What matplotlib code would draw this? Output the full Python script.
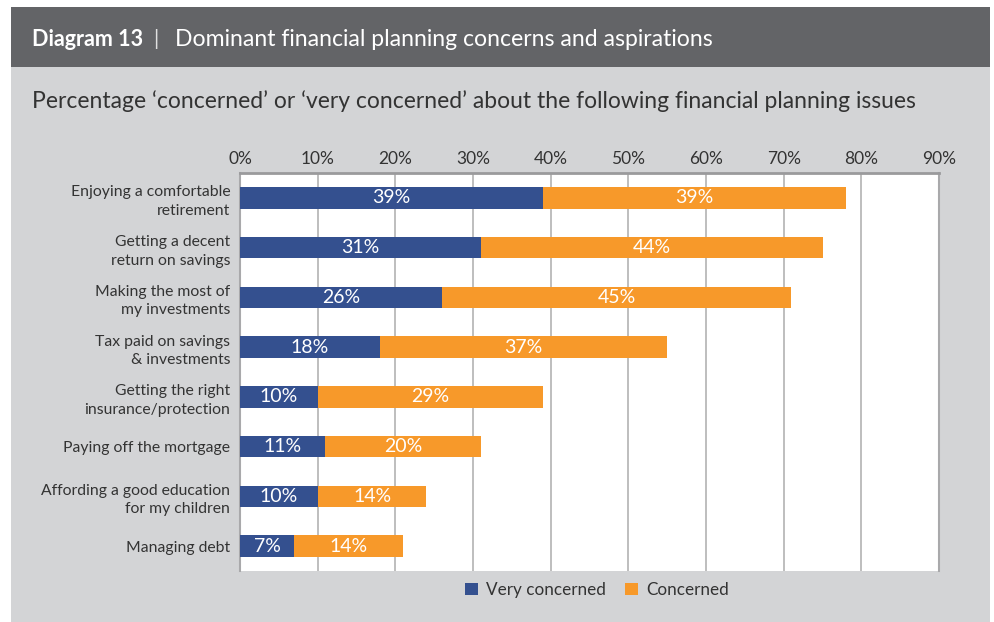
import matplotlib.pyplot as plt
from matplotlib.patches import Rectangle

plt.rcParams['font.family'] = ['Lato', 'DejaVu Sans']

categories = [
    "Enjoying a comfortable\nretirement",
    "Getting a decent\nreturn on savings",
    "Making the most of\nmy investments",
    "Tax paid on savings\n& investments",
    "Getting the right\ninsurance/protection",
    "Paying off the mortgage",
    "Affording a good education\nfor my children",
    "Managing debt",
]
very_concerned = [39, 31, 26, 18, 10, 11, 10, 7]
concerned = [39, 44, 45, 37, 29, 20, 14, 14]
ticks = [0, 10, 20, 30, 40, 50, 60, 70, 80, 90]

BLUE = "#34508f"
ORANGE = "#f7992a"
PANEL = "#d3d4d6"
HEADER = "#636467"
TEXT = "#333333"
GRID = "#b3b3b3"

W, H = 995, 622
fig = plt.figure(figsize=(W / 100, H / 100), dpi=100)
fig.patch.set_facecolor("white")

def px_rect(x0, y0, x1, y1, color):
    # rectangle given in pixel coords measured from the top-left corner
    fig.patches.append(Rectangle((x0 / W, 1 - y1 / H), (x1 - x0) / W, (y1 - y0) / H,
                                 transform=fig.transFigure, facecolor=color,
                                 edgecolor="none", zorder=-10))

px_rect(11, 67, 990, 622, PANEL)
px_rect(11, 7, 990, 67, HEADER)

fig.text(32 / W, 1 - 39 / H, "Diagram 13", color="white", fontsize=15.5,
         fontweight="bold", va="center", ha="left")
fig.text(156 / W, 1 - 39 / H, "|", color="#e0e0e0", fontsize=15, va="center", ha="center")
fig.text(175 / W, 1 - 39 / H, "Dominant financial planning concerns and aspirations",
         color="white", fontsize=16.6, va="center", ha="left")
fig.text(32 / W, 1 - 101 / H,
         "Percentage \u2018concerned\u2019 or \u2018very concerned\u2019 about the following financial planning issues",
         color=TEXT, fontsize=16.5, va="center", ha="left")

ax = fig.add_axes([240 / W, (H - 571) / H, 699 / W, 398 / H])
ax.set_facecolor("white")

y = list(range(len(categories)))
ax.barh(y, very_concerned, height=0.43, color=BLUE, label="Very concerned", zorder=3)
ax.barh(y, concerned, left=very_concerned, height=0.43, color=ORANGE,
        label="Concerned", zorder=3)

for i, (v, c) in enumerate(zip(very_concerned, concerned)):
    ax.text(v / 2, i, f"{v}%", color="white", fontsize=14, ha="center",
            va="center", zorder=4)
    ax.text(v + c / 2, i, f"{c}%", color="white", fontsize=14, ha="center",
            va="center", zorder=4)

ax.set_xlim(0, 90)
ax.set_ylim(len(categories) - 0.5, -0.5)
ax.set_xticks(ticks)
ax.set_xticklabels([f"{t}%" for t in ticks])
ax.xaxis.tick_top()
ax.tick_params(axis="x", length=0, pad=4, labelsize=12.5, labelcolor=TEXT)
ax.set_yticks(y)
ax.set_yticklabels(categories, linespacing=1.4)
ax.tick_params(axis="y", length=0, pad=7, labelsize=11.3, labelcolor=TEXT)
ax.grid(axis="x", color=GRID, linewidth=1.2, zorder=0)
ax.grid(axis="y", visible=False)

for side in ["left", "right"]:
    ax.spines[side].set_color("#a9a9ab")
    ax.spines[side].set_linewidth(1.5)
ax.spines["top"].set_color("#9a9a9c")
ax.spines["top"].set_linewidth(2)
ax.spines["bottom"].set_visible(False)

fig.legend(loc="center", bbox_to_anchor=(597 / W, 1 - 590 / H), ncol=2,
           frameon=False, fontsize=12.3, handlelength=0.75, handleheight=0.75,
           handletextpad=0.5, columnspacing=1.1, labelcolor=TEXT)

fig.savefig("out.png", dpi=100)
